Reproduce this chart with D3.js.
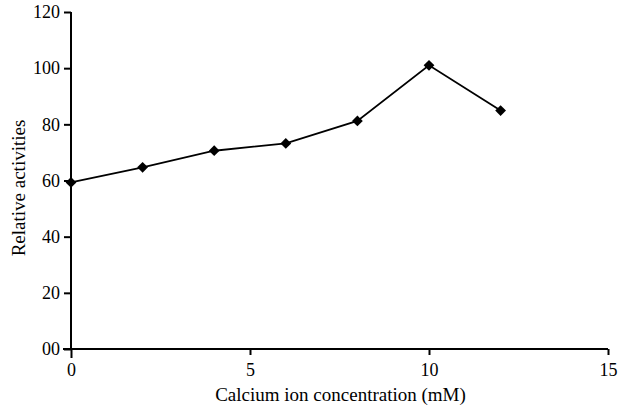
<!DOCTYPE html>
<html>
<head>
<meta charset="utf-8">
<script src="https://cdn.jsdelivr.net/npm/d3@7"></script>
<style>
  body { margin: 0; background: #fff; }
  text { font-family: "Liberation Serif", "Times New Roman", serif; fill: #000; }
</style>
</head>
<body>
<svg id="chart" width="619" height="409"></svg>
<script>
// data
var concentration = [0, 2, 4, 6, 8, 10, 12];
var activity = [59.3, 64.7, 70.6, 73.2, 81.2, 101.0, 84.9];
var xTicks = [0, 5, 10, 15];
var yTicks = [0, 20, 40, 60, 80, 100, 120];
var yTickLabels = ["00", "20", "40", "60", "80", "100", "120"];

var svg = d3.select("#chart");

var xScale = d3.scaleLinear().domain([0, 15]).range([71, 608]);
var yScale = d3.scaleLinear().domain([0, 120]).range([349, 12]);

var tickFont = 18;
var titleFont = 19;

// y axis
var yAxis = d3.axisLeft(yScale)
	.tickValues(yTicks)
	.tickSize(7)
	.tickPadding(4)
	.tickFormat(function(d, i) { return yTickLabels[i]; });

var gy = svg.append("g")
	.attr("transform", "translate(" + xScale(0) + ",0)")
	.call(yAxis)
	.attr("font-family", null)
	.attr("font-size", null);
gy.select(".domain").attr("d", "M0," + yScale(120) + "V" + yScale(0)).attr("stroke-width", 2);
gy.selectAll(".tick line").attr("stroke-width", 2);
gy.selectAll(".tick text").style("font-size", tickFont + "px");

// x axis
var xAxis = d3.axisBottom(xScale)
	.tickValues(xTicks)
	.tickSize(6)
	.tickPadding(8)
	.tickFormat(d3.format("d"));

var gx = svg.append("g")
	.attr("transform", "translate(0," + yScale(0) + ")")
	.call(xAxis)
	.attr("font-family", null)
	.attr("font-size", null);
gx.select(".domain").attr("d", "M" + (xScale(0) - 8) + ",0H" + xScale(15)).attr("stroke-width", 2);
gx.selectAll(".tick line").attr("stroke-width", 2);
gx.selectAll(".tick text").style("font-size", tickFont + "px");
gx.selectAll(".tick").filter(function(d) { return d == 0; }).select("line").attr("y2", 9);

// axis titles
svg.append("text")
	.attr("x", (xScale(0) + xScale(15)) / 2 + 1)
	.attr("y", 401)
	.attr("text-anchor", "middle")
	.style("font-size", titleFont + "px")
	.text("Calcium ion concentration (mM)");

svg.append("text")
	.attr("transform", "translate(25," + 188 + ") rotate(-90)")
	.attr("text-anchor", "middle")
	.style("font-size", titleFont + "px")
	.text("Relative activities");

// line + markers
var pts = concentration.map(function(c, i) { return {x: c, y: activity[i]}; });

var line = d3.line()
	.x(function(d) { return xScale(d.x); })
	.y(function(d) { return yScale(d.y); });

svg.append("path")
	.datum(pts)
	.attr("d", line)
	.attr("fill", "none")
	.attr("stroke", "#000")
	.attr("stroke-width", 1.8);

svg.selectAll(".marker")
	.data(pts)
	.enter()
	.append("path")
	.attr("class", "marker")
	.attr("d", d3.symbol(d3.symbolSquare, 58))
	.attr("transform", function(d) { return "translate(" + xScale(d.x) + "," + yScale(d.y) + ") rotate(45)"; })
	.attr("fill", "#000");
</script>
</body>
</html>
